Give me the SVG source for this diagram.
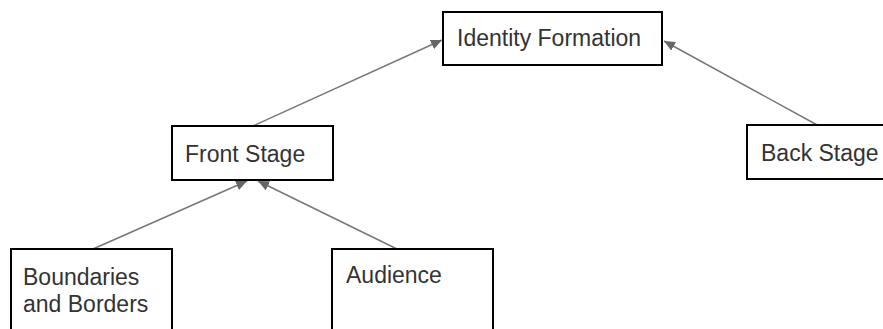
<svg xmlns="http://www.w3.org/2000/svg" width="883" height="329" viewBox="0 0 883 329">
<style>
.box{fill:#fff;stroke:#000;stroke-width:2}
.lbl{font-family:"Liberation Sans",Arial,sans-serif;font-size:23px;fill:#333}
.edge{stroke:#777;stroke-width:1.5;fill:none;marker-end:url(#ah)}
</style>
<defs>
<marker id="ah" markerUnits="userSpaceOnUse" markerWidth="12" markerHeight="10" refX="11" refY="5" orient="auto">
<path d="M0,0 L11,5 L0,10 Z" fill="#666"/>
</marker>
</defs>
<rect width="883" height="329" fill="#fff"/>
<g id="connectors">
<line class="edge" x1="253" y1="126" x2="442" y2="40"/>
<line class="edge" x1="819" y1="126" x2="664" y2="41"/>
<line class="edge" x1="93" y1="249" x2="247" y2="181"/>
<line class="edge" x1="397" y1="249" x2="258" y2="181"/>
</g>
<g id="identity-formation">
<rect class="box" x="443" y="12" width="219" height="53"/>
<text class="lbl" x="457" y="46">Identity Formation</text>
</g>
<g id="front-stage">
<rect class="box" x="172" y="126" width="161" height="54"/>
<text class="lbl" x="185" y="162">Front Stage</text>
</g>
<g id="back-stage">
<rect class="box" x="747" y="125" width="200" height="54"/>
<text class="lbl" x="761" y="161">Back Stage</text>
</g>
<g id="boundaries-and-borders">
<rect class="box" x="11" y="249" width="161" height="100"/>
<text class="lbl" x="23" y="285">Boundaries</text>
<text class="lbl" x="23" y="312">and Borders</text>
</g>
<g id="audience">
<rect class="box" x="332" y="249" width="161" height="100"/>
<text class="lbl" x="346" y="283">Audience</text>
</g>
</svg>
